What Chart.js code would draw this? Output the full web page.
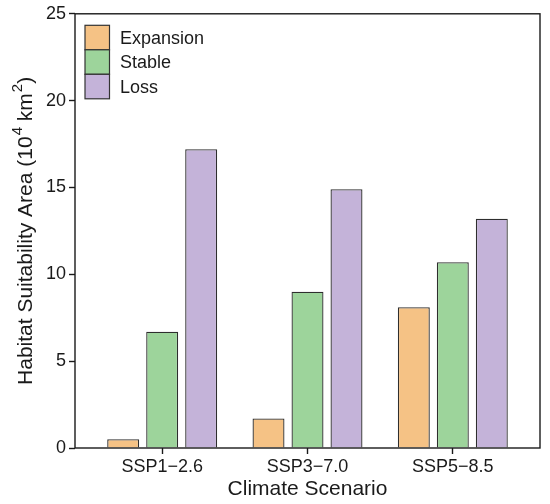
<!DOCTYPE html>
<html>
<head>
<meta charset="utf-8">
<script src="https://cdn.jsdelivr.net/npm/chart.js@4.4.1/dist/chart.umd.min.js"></script>
<style>
  html, body { margin: 0; padding: 0; background: #fff; }
  #wrap { width: 550px; height: 504px; }
</style>
</head>
<body>
<div id="wrap"><canvas id="areaChart"></canvas></div>
<script>
// values (10^4 km2)
const scenarios = ['SSP1\u22122.6', 'SSP3\u22127.0', 'SSP5\u22128.5'];
const expansion = [0.5, 1.7, 8.1];
const stable = [6.7, 9.0, 10.7];
const loss = [17.2, 14.9, 13.2];
const yTicks = [0, 5, 10, 15, 20, 25];

const FONT = "'Liberation Sans', Arial, sans-serif";
const INK = '#1a1a1a';

function toPoints(arr) {
    return arr.map((v, i) => ({ x: i, y: v }));
}

// box around the plot area
const framePlugin = {
    id: 'frame',
    afterDatasetsDraw(chart) {
        const { ctx, chartArea: a } = chart;
        ctx.save();
        ctx.strokeStyle = INK;
        ctx.lineWidth = 1.4;
        ctx.strokeRect(a.left, a.top, a.right - a.left, a.bottom - a.top);
        ctx.restore();
    }
};

// stacked legend inside the top-left corner
const boxLegend = {
    id: 'boxLegend',
    afterDraw(chart) {
        const { ctx, chartArea: a } = chart;
        const x = a.left + 10, size = 24.5;
        let y = a.top + 11.5;
        ctx.save();
        ctx.font = '18px ' + FONT;
        ctx.textBaseline = 'middle';
        chart.data.datasets.forEach(ds => {
            ctx.fillStyle = ds.backgroundColor;
            ctx.fillRect(x, y, size, size);
            ctx.strokeStyle = '#333';
            ctx.lineWidth = 1.2;
            ctx.strokeRect(x, y, size, size);
            ctx.fillStyle = INK;
            ctx.fillText(ds.label, x + 35, y + size / 2 + 1);
            y += size;
        });
        ctx.restore();
    }
};

// y title with real superscripts
const yTitleParts = [
    ['Habitat Suitability Area (10', false],
    ['4', true],
    [' km', false],
    ['2', true],
    [')', false]
];
const yTitle = {
    id: 'yTitle',
    afterDraw(chart) {
        const { ctx, chartArea: a } = chart;
        const big = '21px ' + FONT, small = '15px ' + FONT;
        ctx.save();
        let total = 0;
        yTitleParts.forEach(([t, sup]) => {
            ctx.font = sup ? small : big;
            total += ctx.measureText(t).width + (sup ? 1 : 0);
        });
        ctx.translate(32, (a.top + a.bottom) / 2);
        ctx.rotate(-Math.PI / 2);
        ctx.fillStyle = INK;
        ctx.textBaseline = 'alphabetic';
        let x = -total / 2;
        yTitleParts.forEach(([t, sup]) => {
            ctx.font = sup ? small : big;
            ctx.fillText(t, x + (sup ? 1 : 0), sup ? -10 : 0);
            x += ctx.measureText(t).width + (sup ? 1 : 0);
        });
        ctx.restore();
    }
};

const ctx = document.getElementById('areaChart').getContext('2d');
const areaChart = new Chart(ctx, {
    type: 'bar',
    data: {
        datasets: [
            { label: 'Expansion', data: toPoints(expansion), backgroundColor: '#F5C285' },
            { label: 'Stable', data: toPoints(stable), backgroundColor: '#9DD49B' },
            { label: 'Loss', data: toPoints(loss), backgroundColor: '#C4B3D9' }
        ]
    },
    options: {
        responsive: true,
        maintainAspectRatio: false,
        animation: false,
        layout: { padding: { top: 13, right: 10, left: 0, bottom: 0 } },
        datasets: {
            bar: {
                borderColor: '#2e2e2e',
                borderWidth: 1.3,
                categoryPercentage: 0.805,
                barPercentage: 0.82
            }
        },
        plugins: {
            legend: { display: false },
            tooltip: { enabled: false }
        },
        scales: {
            x: {
                type: 'linear',
                min: -0.6,
                max: 2.6,
                offset: false,
                afterBuildTicks(scale) {
                    scale.ticks = scenarios.map((s, i) => ({ value: i }));
                },
                afterFit(scale) { scale.height = 56; },
                border: { display: false },
                grid: {
                    offset: false,
                    drawOnChartArea: false,
                    drawTicks: true,
                    tickLength: 6,
                    tickWidth: 1.4,
                    tickColor: INK
                },
                ticks: {
                    padding: 2,
                    color: INK,
                    font: { family: FONT, size: 18 },
                    callback: v => scenarios[v]
                },
                title: {
                    display: true,
                    text: 'Climate Scenario',
                    color: INK,
                    font: { family: FONT, size: 21 },
                    padding: { top: 0, bottom: 2.5 }
                }
            },
            y: {
                min: 0,
                max: 25,
                afterBuildTicks(scale) {
                    scale.ticks = yTicks.map(v => ({ value: v }));
                },
                afterFit(scale) { scale.width = 75; },
                border: { display: false },
                grid: {
                    drawOnChartArea: false,
                    drawTicks: true,
                    tickLength: 6,
                    tickWidth: 1.4,
                    tickColor: INK
                },
                ticks: {
                    padding: 3,
                    color: INK,
                    font: { family: FONT, size: 18 }
                }
            }
        }
    },
    plugins: [framePlugin, boxLegend, yTitle]
});
</script>
</body>
</html>
